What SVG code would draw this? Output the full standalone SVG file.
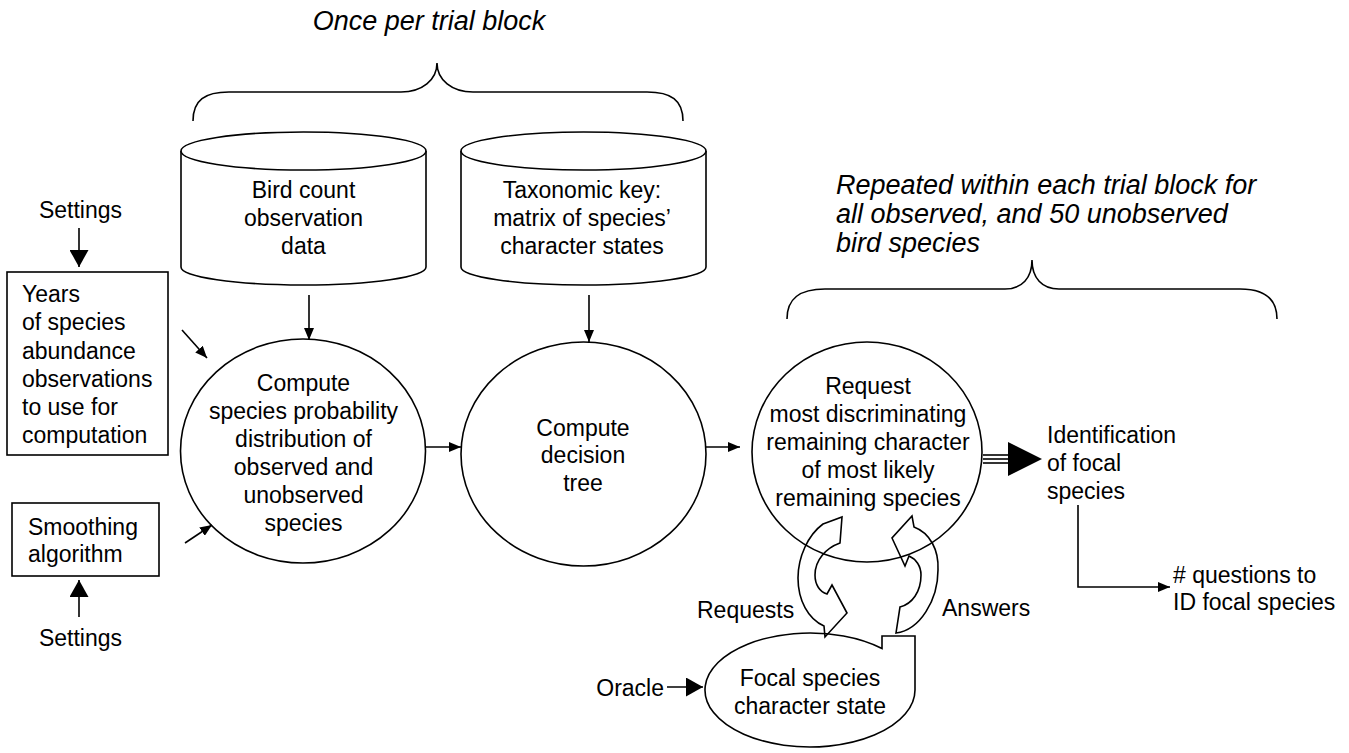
<svg xmlns="http://www.w3.org/2000/svg" width="1349" height="753" viewBox="0 0 1349 753">
<style>
.t{font-family:"Liberation Sans",Arial,sans-serif;font-size:23px;fill:#000}
.c{text-anchor:middle}
.i{font-family:"Liberation Sans",Arial,sans-serif;font-size:27px;font-style:italic;fill:#000}
.s{fill:#fff;stroke:#000;stroke-width:1.6}
.n{fill:none;stroke:#000;stroke-width:1.6}
.l{fill:none;stroke:#000;stroke-width:1.6}
</style>
<defs>
<marker id="ah" markerUnits="userSpaceOnUse" markerWidth="12" markerHeight="10" refX="12" refY="5" orient="auto"><path d="M0,0 L12,5 L0,10 z" fill="#000"/></marker>
<marker id="ahb" markerUnits="userSpaceOnUse" markerWidth="17" markerHeight="19" refX="17" refY="9.5" orient="auto"><path d="M0,0 L17,9.5 L0,19 z" fill="#000"/></marker>
</defs>
<rect width="1349" height="753" fill="#fff"/>

<g id="label-once">
<text class="i" x="429" y="30" text-anchor="middle">Once per trial block</text>
<path class="n" d="M193,121 C193,100 205,92 229,92 L401,92 C422,92 437,80 437,63 C437,80 452,92 473,92 L647,92 C671,92 683,100 683,121"/>
</g>
<g id="label-repeated">
<text class="i" x="836" y="194">Repeated within each trial block for</text>
<text class="i" x="836" y="223">all observed, and 50 unobserved</text>
<text class="i" x="836" y="252">bird species</text>
<path class="n" d="M787,319 C787,298 800,289 825,289 L1005,289 C1022,289 1032,278 1032,260 C1032,278 1042,289 1059,289 L1240,289 C1264,289 1277,298 1277,319"/>
</g>

<g id="settings-top"><text class="t c" x="80.5" y="217.5">Settings</text></g>
<g id="years-box">
<rect class="s" x="7" y="272" width="161" height="183"/>
<text class="t" x="22" y="302">Years</text>
<text class="t" x="22" y="330">of species</text>
<text class="t" x="22" y="359">abundance</text>
<text class="t" x="22" y="387">observations</text>
<text class="t" x="22" y="415">to use for</text>
<text class="t" x="22" y="443">computation</text>
</g>
<g id="smoothing-box">
<rect class="s" x="12" y="503" width="147" height="73"/>
<text class="t" x="28" y="534.5">Smoothing</text>
<text class="t" x="28" y="561.5">algorithm</text>
</g>
<g id="settings-bottom"><text class="t c" x="80.5" y="645.5">Settings</text></g>

<g id="bird-count-db">
<path class="s" d="M181,151 L181,267 A122.5,18 0 0 0 426,267 L426,151"/>
<ellipse class="s" cx="303.5" cy="151" rx="122.5" ry="19"/>
<text class="t c" x="303.5" y="197.5">Bird count</text>
<text class="t c" x="303.5" y="225.5">observation</text>
<text class="t c" x="303.5" y="253.5">data</text>
</g>
<g id="taxonomic-key-db">
<path class="s" d="M461,151 L461,267 A122.5,18 0 0 0 706,267 L706,151"/>
<ellipse class="s" cx="583.5" cy="151" rx="122.5" ry="19"/>
<text class="t c" x="582" y="197.5">Taxonomic key:</text>
<text class="t c" x="582" y="225.5">matrix of species’</text>
<text class="t c" x="582" y="253.5">character states</text>
</g>

<g id="compute-probability">
<ellipse class="s" cx="303" cy="451" rx="122.5" ry="112"/>
<text class="t c" x="303.5" y="391">Compute</text>
<text class="t c" x="303.5" y="419">species probability</text>
<text class="t c" x="303.5" y="447">distribution of</text>
<text class="t c" x="303.5" y="475">observed and</text>
<text class="t c" x="303.5" y="503">unobserved</text>
<text class="t c" x="303.5" y="531">species</text>
</g>
<g id="compute-tree">
<ellipse class="s" cx="583.5" cy="454" rx="122.5" ry="112"/>
<text class="t c" x="583" y="436">Compute</text>
<text class="t c" x="583" y="463">decision</text>
<text class="t c" x="583" y="491">tree</text>
</g>
<g id="request-character">
<ellipse class="s" cx="867" cy="452" rx="115" ry="110"/>
<text class="t c" x="868" y="394">Request</text>
<text class="t c" x="868" y="422">most discriminating</text>
<text class="t c" x="868" y="450">remaining character</text>
<text class="t c" x="868" y="478">of most likely</text>
<text class="t c" x="868" y="506">remaining species</text>
</g>
<g id="focal-state">
<path class="s" d="M915,690 A105,57 0 1 1 882,648.5 L882,636 L915,636 Z"/>
<text class="t c" x="810" y="686">Focal species</text>
<text class="t c" x="810" y="714">character state</text>
</g>
<g id="oracle"><text class="t" x="664" y="695.5" text-anchor="end">Oracle</text></g>
<g id="identification">
<text class="t" x="1047" y="442.5">Identification</text>
<text class="t" x="1047" y="470.5">of focal</text>
<text class="t" x="1047" y="498.5">species</text>
</g>
<g id="questions">
<text class="t" x="1173" y="582.5"># questions to</text>
<text class="t" x="1173" y="609.5">ID focal species</text>
</g>

<g id="connectors">
<line class="l" x1="79" y1="228" x2="79" y2="267" marker-end="url(#ahb)"/>
<line class="l" x1="79" y1="617" x2="79" y2="580" marker-end="url(#ahb)"/>
<line class="l" x1="667" y1="687" x2="703" y2="687" marker-end="url(#ahb)"/>
<line class="l" x1="182" y1="330" x2="207" y2="358" marker-end="url(#ah)"/>
<line class="l" x1="185" y1="543" x2="212" y2="525" marker-end="url(#ah)"/>
<line class="l" x1="309" y1="295" x2="309" y2="340" marker-end="url(#ah)"/>
<line class="l" x1="589" y1="295" x2="589" y2="342" marker-end="url(#ah)"/>
<line class="l" x1="425" y1="447" x2="461" y2="447" marker-end="url(#ah)"/>
<line class="l" x1="706" y1="447" x2="740" y2="447" marker-end="url(#ah)"/>
<polyline class="l" points="1078,505 1078,587 1170,587" marker-end="url(#ah)"/>
<g id="triple-arrow">
<line class="l" x1="983" y1="455" x2="1012" y2="455"/>
<line class="l" x1="983" y1="459" x2="1012" y2="459"/>
<line class="l" x1="983" y1="463" x2="1012" y2="463"/>
<polygon points="1008,442 1042,459 1008,476" fill="#000"/>
</g>
<path id="requests-arrow" class="n" d="M823,524 L842,517 L840,543 C826,548 815,560 815,575 C815,585 820,592 827,594 L832,585 L847,613 L825,637 L824,626 C808,619 798,600 798,578 C798,557 808,535 823,524 Z"/>
<path id="answers-arrow" class="n" d="M896,633 L900,607 C912,604 921,592 921,575 C921,566 916,559 909,556 L905,566 L892,538 L912,516 L914,527 C930,533 939,550 938,570 C938,600 920,630 896,633 Z"/>
<text class="t" x="697" y="617.5">Requests</text>
<text class="t" x="942" y="615.5">Answers</text>
</g>
</svg>
